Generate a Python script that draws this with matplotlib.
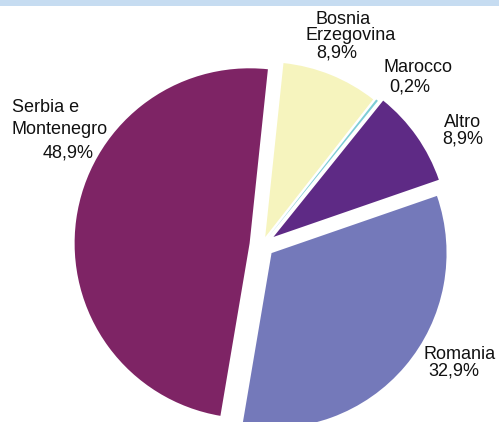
import numpy as np
import matplotlib
matplotlib.use("Agg")
import matplotlib.pyplot as plt

# --- data ---
countries = ["Bosnia\nErzegovina", "Marocco", "Altro", "Romania", "Serbia e\nMontenegro"]
shares = [8.9, 0.2, 8.9, 32.9, 48.9]
pct_labels = ["8,9%", "0,2%", "8,9%", "32,9%", "48,9%"]

colors = ["#F6F4BE", "#7ECDD6", "#5E2A85", "#7479BA", "#7E2465"]
# offsets are in data units (pixels here), not fractions of the radius
explode = [8.5, 10, 14, 12.5, 12.5]

W, H = 499, 422
plt.rcParams["font.family"] = ["Liberation Sans", "DejaVu Sans"]

fig = plt.figure(figsize=(W / 100, H / 100), dpi=100)
ax = fig.add_axes([0, 0, 1, 1])

# light blue strip along the top edge
ax.axhspan(H - 6, H, color="#C6DCF1", lw=0)

ax.pie(shares, colors=colors, explode=explode, startangle=84,
       counterclock=False, radius=175, center=(262, H - 245),
       wedgeprops=dict(linewidth=0), frame=True)
ax.set_xlim(0, W)
ax.set_ylim(0, H)
ax.set_aspect("equal")
ax.axis("off")

# label lines: (text, x, baseline y in pixels from top, alignment)
label_lines = [
    ("Bosnia", 343, 24, "center"),
    ("Erzegovina", 351, 40, "center"),
    (pct_labels[0], 337, 58, "center"),
    ("Marocco", 418, 72, "center"),
    (pct_labels[1], 410, 91, "center"),
    ("Romania", 460, 359, "center"),
    (pct_labels[3], 454, 375, "center"),
    ("Serbia e", 12, 112, "left"),
    ("Montenegro", 12, 134, "left"),
    (pct_labels[4], 68, 157, "center"),
]
for txt, x, y, ha in label_lines:
    ax.text(x, H - y, txt, ha=ha, va="baseline", fontsize=13, color="#111111")

# "Altro" sits very tight above its percentage, so keep it as one text
# (baseline alignment here refers to the last line)
ax.text(463, H - 143, "Altro\n" + pct_labels[2], ha="center", va="baseline",
        multialignment="center", linespacing=0.95, fontsize=13, color="#111111")

fig.savefig("out.png", dpi=100)
